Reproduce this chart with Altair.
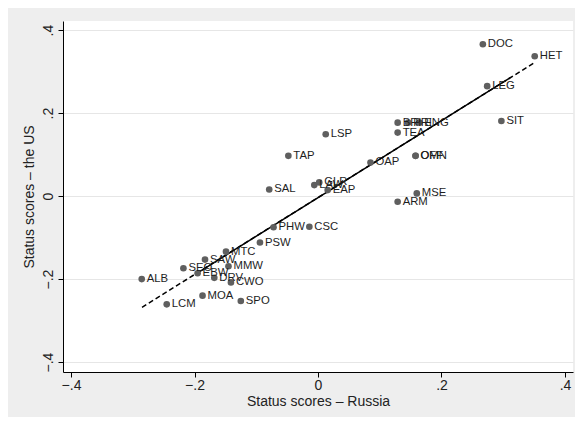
import altair as alt
import pandas as pd

labels = ["DOC", "HET", "LEG", "SIT", "BRI", "PRI", "ENG", "TEA", "LSP", "TAP",
          "OAP", "OFF", "OMN", "MSE", "ARM", "SAL", "LAW", "GLR", "EAP", "PHW",
          "CSC", "PSW", "MTC", "SAW", "MMW", "SEO", "EBW", "DRV", "CWO", "ALB",
          "MOA", "SPO", "LCM"]
russia = [0.267, 0.351, 0.274, 0.297, 0.129, 0.146, 0.164, 0.129, 0.0125, -0.048,
          0.085, 0.158, 0.158, 0.160, 0.129, -0.079, -0.006, 0.002, 0.0157, -0.072,
          -0.014, -0.094, -0.149, -0.183, -0.145, -0.218, -0.195, -0.168, -0.141, -0.2855,
          -0.187, -0.125, -0.245]
us = [0.366, 0.337, 0.265, 0.181, 0.177, 0.177, 0.177, 0.153, 0.149, 0.097,
      0.081, 0.097, 0.097, 0.0065, -0.0137, 0.016, 0.0265, 0.033, 0.0145, -0.075,
      -0.074, -0.112, -0.134, -0.153, -0.169, -0.174, -0.186, -0.197, -0.208, -0.200,
      -0.240, -0.253, -0.261]

dash_x = [-0.285, 0.351]
dash_y = [-0.268, 0.322]
solid_x = [-0.195, 0.311]
solid_y = [-0.185, 0.285]

ticks = [-0.4, -0.2, 0, 0.2, 0.4]

pts = pd.DataFrame({"label": labels, "x": russia, "y": us})
dash = pd.DataFrame({"x": dash_x, "y": dash_y})
solid = pd.DataFrame({"x": solid_x, "y": solid_y})

fmt = "datum.value == 0 ? '0' : replace(replace(format(datum.value, '.1f'), '0.', '.'), '-', '\u2212')"

xs = alt.Scale(domain=[-0.413, 0.413], nice=False, zero=False)
ys = alt.Scale(domain=[-0.424, 0.422], nice=False, zero=False)

xenc = alt.X("x:Q", scale=xs, axis=alt.Axis(
    title="Status scores \u2013 Russia", values=ticks, labelExpr=fmt, grid=False,
    tickSize=5, labelPadding=1, titlePadding=2))
yenc = alt.Y("y:Q", scale=ys, axis=alt.Axis(
    title="Status scores \u2013 the US", values=ticks, labelExpr=fmt, grid=True,
    gridColor="#e6e6e6", tickSize=5, labelAngle=-90, labelAlign="center",
    labelBaseline="bottom", labelPadding=3, titlePadding=5))

dash_line = alt.Chart(dash).mark_line(color="black", strokeWidth=1.5, strokeDash=[5, 3]).encode(x=xenc, y=yenc)
solid_line = alt.Chart(solid).mark_line(color="black", strokeWidth=1.5).encode(x="x:Q", y="y:Q")
dots = alt.Chart(pts).mark_circle(color="#5f5f5f", opacity=1, size=44).encode(x="x:Q", y="y:Q")
texts = alt.Chart(pts).mark_text(align="left", baseline="middle", dx=5, fontSize=11.3,
                                 font="Liberation Sans", color="#1e1e1e").encode(
    x="x:Q", y="y:Q", text="label:N")

chart = alt.layer(dash_line, solid_line, dots, texts).properties(
    width=510, height=351,
    autosize=alt.AutoSizeParams(type="none"),
    padding={"left": 55, "top": 13, "right": 2, "bottom": 45},
    background="#eeeeee",
).configure_view(fill="white", stroke=None).configure_axis(
    domainColor="black", tickColor="black", labelColor="#222222", titleColor="#222222",
    labelFont="Liberation Sans", titleFont="Liberation Sans", labelFontSize=14,
    titleFontSize=14, titleFontWeight="normal", domainWidth=1)

chart.save("out.html", embed_options={"renderer": "svg", "actions": False})
